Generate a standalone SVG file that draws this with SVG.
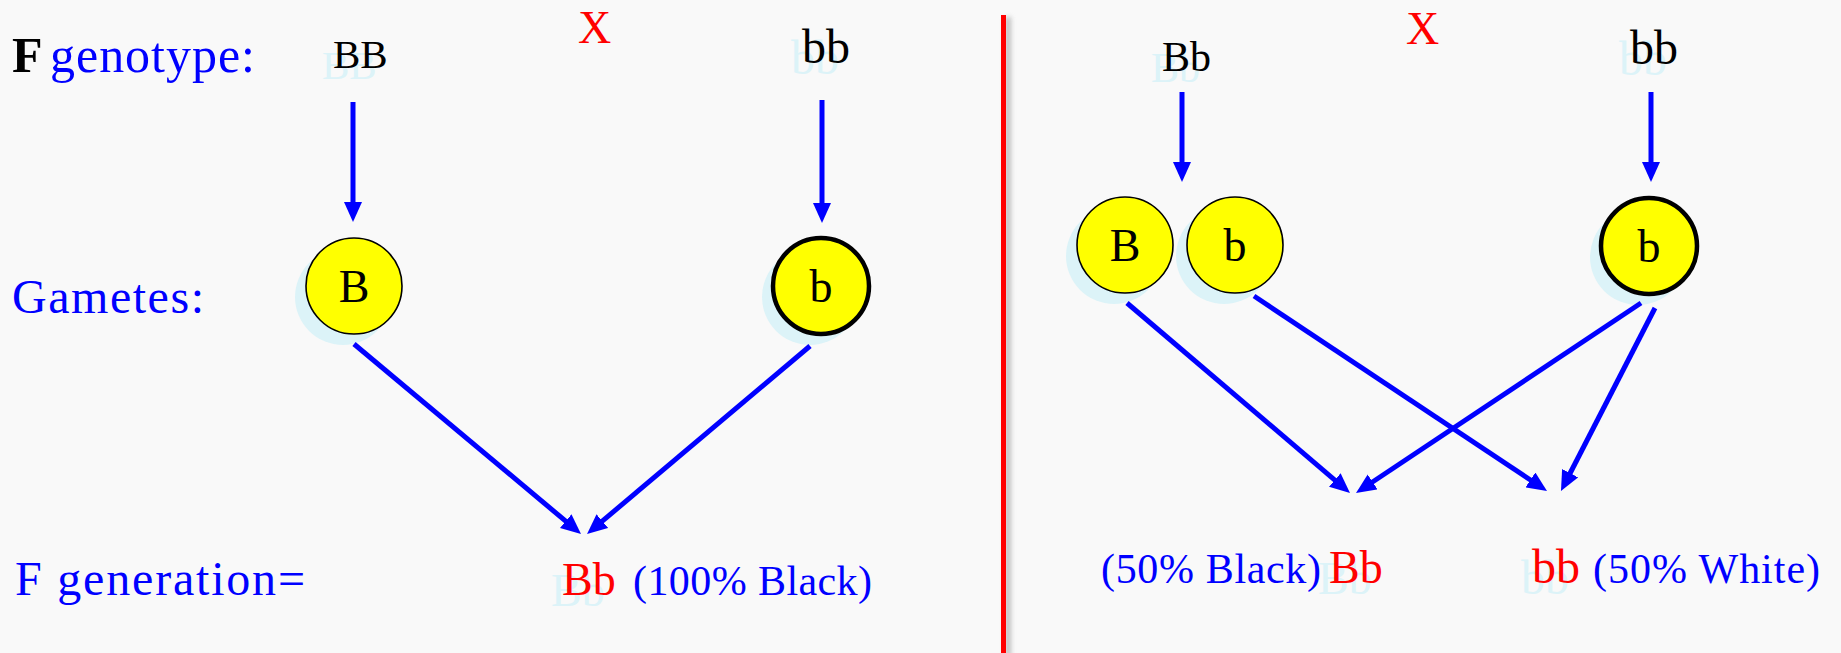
<svg xmlns="http://www.w3.org/2000/svg" width="1841" height="653" viewBox="0 0 1841 653">
<style>
.lbl{font-family:"Liberation Serif","DejaVu Serif",serif;fill:#0000ff}
.blk{font-family:"Liberation Serif","DejaVu Serif",serif;fill:#000}
.red{font-family:"Liberation Serif","DejaVu Serif",serif;fill:#ff0000}
.sh{font-family:"Liberation Serif","DejaVu Serif",serif;fill:#dcf3f8}
.gam{fill:#ffff00;stroke:#000;stroke-width:1.6}
.gamT{fill:#ffff00;stroke:#000;stroke-width:4.5}
.gsh{fill:#dcf3f8}
.glt{font-family:"Liberation Serif","DejaVu Serif",serif;fill:#000;font-size:46px;text-anchor:middle}
.arr{stroke:#0000ff;stroke-width:5;fill:none;marker-end:url(#ah)}
</style>
<defs>
<marker id="ah" markerUnits="userSpaceOnUse" markerWidth="20" markerHeight="18" refX="2" refY="9" orient="auto">
<path d="M0,0 L20,9 L0,18 z" fill="#0000ff"/>
</marker>
<filter id="lsh" x="-200%" y="-5%" width="500%" height="110%">
<feGaussianBlur stdDeviation="2.5"/>
</filter>
</defs>
<rect width="1841" height="653" fill="#f9f9f9"/>

<g id="divider">
<rect x="1005" y="17" width="6" height="640" fill="#999" opacity="0.6" filter="url(#lsh)"/>
<rect x="1001" y="15" width="5" height="640" fill="#ff0000"/>
</g>

<g id="labels">
<text x="12" y="72" class="blk" font-size="50" font-weight="bold">F</text>
<text x="50" y="72" class="lbl" font-size="50" textLength="205">genotype:</text>
<text x="12" y="313" class="lbl" font-size="48" textLength="192">Gametes:</text>
<text x="15" y="595" class="lbl" font-size="48" textLength="290">F generation=</text>
<text x="578" y="43" class="red" font-size="46">X</text>
<text x="1406" y="44" class="red" font-size="46">X</text>
</g>

<g id="p1-BB">
<text x="322" y="79" class="sh" font-size="41">BB</text>
<text x="333" y="68" class="blk" font-size="41">BB</text>
</g>
<g id="p1-bb">
<text x="791" y="74" class="sh" font-size="48">bb</text>
<text x="802" y="63" class="blk" font-size="48">bb</text>
</g>
<g id="p2-Bb">
<text x="1151" y="82" class="sh" font-size="42">Bb</text>
<text x="1162" y="71" class="blk" font-size="42">Bb</text>
</g>
<g id="p2-bb">
<text x="1619" y="75" class="sh" font-size="48">bb</text>
<text x="1630" y="64" class="blk" font-size="48">bb</text>
</g>

<g id="g1-B">
<circle cx="343" cy="297" r="48" class="gsh"/>
<circle cx="354" cy="286" r="48" class="gam"/>
<text x="354" y="302" class="glt">B</text>
</g>
<g id="g1-b">
<circle cx="810" cy="297" r="48" class="gsh"/>
<circle cx="821" cy="286" r="48" class="gamT"/>
<text x="821" y="302" class="glt">b</text>
</g>
<g id="g2-B">
<circle cx="1114" cy="256" r="48" class="gsh"/>
<circle cx="1125" cy="245" r="48" class="gam"/>
<text x="1125" y="261" class="glt">B</text>
</g>
<g id="g2-b">
<circle cx="1224" cy="256" r="48" class="gsh"/>
<circle cx="1235" cy="245" r="48" class="gam"/>
<text x="1235" y="261" class="glt">b</text>
</g>
<g id="g2-b2">
<circle cx="1638" cy="257" r="48" class="gsh"/>
<circle cx="1649" cy="246" r="48" class="gamT"/>
<text x="1649" y="262" class="glt">b</text>
</g>

<g id="result1">
<text x="551" y="606" class="sh" font-size="46">Bb</text>
<text x="562" y="595" class="red" font-size="46">Bb</text>
<text x="633" y="595" class="lbl" font-size="42" textLength="239">(100% Black)</text>
</g>
<g id="result2">
<text x="1101" y="583" class="lbl" font-size="42" textLength="220">(50% Black)</text>
<text x="1318" y="594" class="sh" font-size="46">Bb</text>
<text x="1329" y="583" class="red" font-size="46">Bb</text>
</g>
<g id="result3">
<text x="1521" y="594" class="sh" font-size="48">bb</text>
<text x="1532" y="583" class="red" font-size="48">bb</text>
<text x="1593" y="583" class="lbl" font-size="42" textLength="227">(50% White)</text>
</g>

<g id="connectors">
<line x1="353" y1="102" x2="353" y2="204" class="arr"/>
<line x1="822" y1="100" x2="822" y2="205" class="arr"/>
<line x1="354" y1="344" x2="567.2" y2="522.4" class="arr"/>
<line x1="810" y1="346" x2="600.8" y2="522.4" class="arr"/>
<line x1="1182" y1="92" x2="1182" y2="164" class="arr"/>
<line x1="1651" y1="92" x2="1651" y2="164" class="arr"/>
<line x1="1127" y1="303" x2="1336.3" y2="481.3" class="arr"/>
<line x1="1254" y1="296" x2="1532" y2="481" class="arr"/>
<line x1="1641" y1="303" x2="1371" y2="483" class="arr"/>
<line x1="1655" y1="308" x2="1569.2" y2="475" class="arr"/>
</g>
</svg>
